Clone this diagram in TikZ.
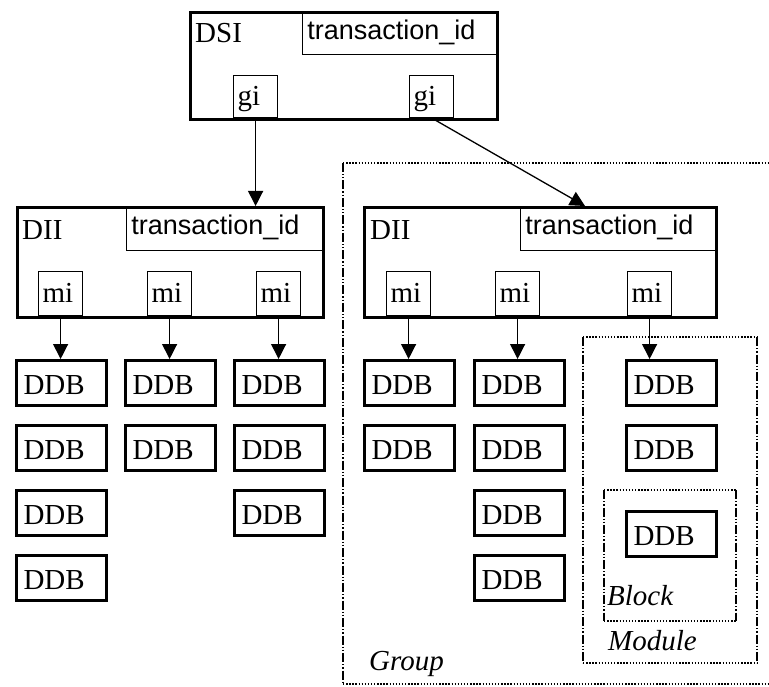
\documentclass[tikz,border=0pt]{standalone}
\usepackage{fontspec}
\setmainfont{Liberation Serif}
\newfontfamily\sansf{Liberation Sans}
\usetikzlibrary{arrows.meta,calc}

\tikzset{
  serif29/.style={font=\fontsize{29}{30}\selectfont},
  outerbox/.style={draw, line width=3pt, inner sep=0pt, anchor=north west},
  namelbl/.style={serif29, inner sep=0pt, anchor=base west},
  tidbox/.style={draw, line width=1.2pt, inner ysep=0pt, inner xsep=5pt,
    font=\sansf\fontsize{27}{28}\selectfont, align=left,
    text height=20pt, text depth=8pt, anchor=north east},
  slotbox/.style={draw, line width=1.2pt, inner ysep=0pt, inner xsep=4pt,
    serif29, align=left, text width=36pt, minimum width=44pt,
    text height=21pt, text depth=3pt, anchor=south west},
  ddbbox/.style={draw, line width=3pt, inner ysep=0pt, inner xsep=7pt,
    serif29, align=left, text width=76pt, minimum width=90pt,
    minimum height=45pt, text height=23pt, text depth=0pt, anchor=north west},
  arr/.style={line width=1.3pt, -{Triangle[length=15pt,width=15pt]}},
  hdots/.style={line width=1.4pt, dash pattern=on 1.4pt off 1.7pt},
  vdashdots/.style={line width=1.4pt,
    dash pattern=on 9pt off 2pt on 1.4pt off 1.7pt on 1.4pt off 2pt},
  grplbl/.style={font=\itshape\fontsize{29}{30}\selectfont, inner sep=0pt, anchor=base west}
}

\begin{document}
\begin{tikzpicture}[x=1pt, y=-1pt]
\useasboundingbox (0,0) rectangle (769,687);

% ---------- DSI ----------
\node[outerbox, minimum width=307pt, minimum height=107pt] (dsi) at (189,11) {};
\node[namelbl] (dsiname) at ($(dsi.north west)+(6,32)$) {DSI};
\node[tidbox, text width=186pt, minimum width=196pt, minimum height=43pt]
  (dsitid) at (dsi.north east) {transaction\_id};
\node[slotbox, minimum height=42pt] (gi1) at (233,118) {gi};
\node[slotbox, minimum height=42pt] (gi2) at (409,118) {gi};

% ---------- left DII ----------
\node[outerbox, minimum width=306pt, minimum height=110pt] (diil) at (16,206) {};
\node[namelbl] (diilname) at ($(diil.north west)+(6,34)$) {DII};
\node[tidbox, text width=188pt, minimum width=198pt, minimum height=44pt]
  (diiltid) at (diil.north east) {transaction\_id};
\node[slotbox, minimum height=44pt] (mil1) at (38,316) {mi};
\node[slotbox, minimum height=44pt] (mil2) at (147,316) {mi};
\node[slotbox, minimum height=44pt] (mil3) at (256,316) {mi};

% ---------- right DII ----------
\node[outerbox, minimum width=352pt, minimum height=110pt] (diir) at (363,206) {};
\node[namelbl] (diirname) at ($(diir.north west)+(7,34)$) {DII};
\node[tidbox, text width=187pt, minimum width=197pt, minimum height=44pt]
  (diirtid) at (diir.north east) {transaction\_id};
\node[slotbox, minimum height=44pt] (mir1) at (386,316) {mi};
\node[slotbox, minimum height=44pt] (mir2) at (495,316) {mi};
\node[slotbox, minimum height=44pt] (mir3) at (627,316) {mi};

% ---------- DDB columns under the left DII ----------
\node[ddbbox] (l1a) at (15,359) {DDB};
\node[ddbbox] (l1b) at (15,424) {DDB};
\node[ddbbox] (l1c) at (15,489) {DDB};
\node[ddbbox] (l1d) at (15,554) {DDB};
\node[ddbbox] (l2a) at (124,359) {DDB};
\node[ddbbox] (l2b) at (124,424) {DDB};
\node[ddbbox] (l3a) at (233,359) {DDB};
\node[ddbbox] (l3b) at (233,424) {DDB};
\node[ddbbox] (l3c) at (233,489) {DDB};

% ---------- DDB columns under the right DII ----------
\node[ddbbox] (r1a) at (363,359) {DDB};
\node[ddbbox] (r1b) at (363,424) {DDB};
\node[ddbbox] (r2a) at (473,359) {DDB};
\node[ddbbox] (r2b) at (473,424) {DDB};
\node[ddbbox] (r2c) at (473,489) {DDB};
\node[ddbbox] (r2d) at (473,554) {DDB};
\node[ddbbox] (r3a) at (625,359) {DDB};
\node[ddbbox] (r3b) at (625,424) {DDB};
\node[ddbbox] (r3c) at (625,510) {DDB};

% ---------- connectors ----------
\coordinate (diirin) at (585,206);
\draw[arr] (gi1.south) -- (gi1.south |- diil.north);
\draw[arr] (gi2.south) -- (diirin);
\draw[arr] (mil1.south) -- (mil1.south |- l1a.north);
\draw[arr] (mil2.south) -- (mil2.south |- l2a.north);
\draw[arr] (mil3.south) -- (mil3.south |- l3a.north);
\draw[arr] (mir1.south) -- (mir1.south |- r1a.north);
\draw[arr] (mir2.south) -- (mir2.south |- r2a.north);
\draw[arr] (mir3.south) -- (mir3.south |- r3a.north);

% ---------- Group frame (runs past the right edge) ----------
\draw[hdots] (343,163) -- (769,163);
\draw[hdots] (343,684) -- (769,684);
\draw[vdashdots] (343,163) -- (343,684);
\node[grplbl] (grouplbl) at (369,670) {Group};

% ---------- Module frame ----------
\draw[hdots] (583,337) -- (757,337);
\draw[hdots] (583,663) -- (757,663);
\draw[vdashdots] (583,337) -- (583,663);
\draw[vdashdots] (757,337) -- (757,663);
\node[grplbl] (modulelbl) at (608,650) {Module};

% ---------- Block frame ----------
\draw[hdots] (604,490) -- (736,490);
\draw[hdots] (604,621) -- (736,621);
\draw[vdashdots] (604,490) -- (604,621);
\draw[vdashdots] (736,490) -- (736,621);
\node[grplbl] (blocklbl) at (607,605) {Block};
\end{tikzpicture}
\end{document}
